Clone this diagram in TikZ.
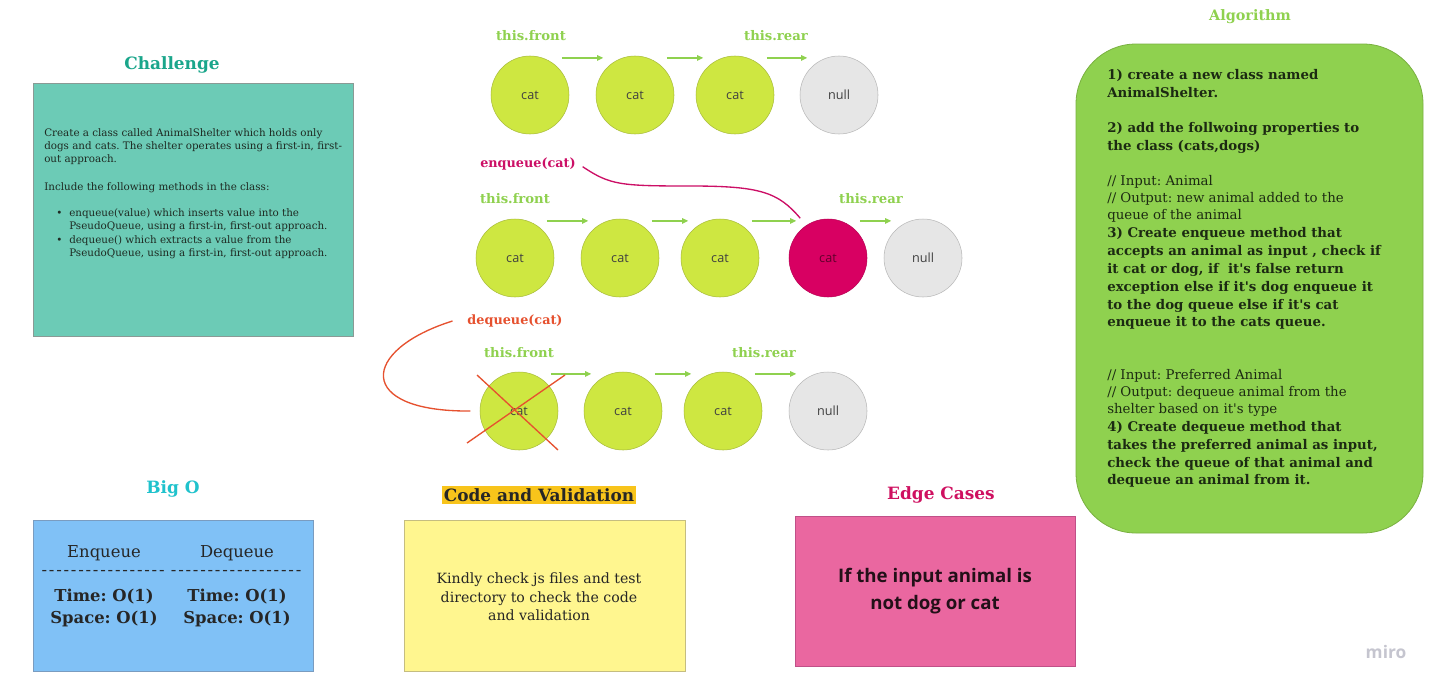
\documentclass[tikz,border=0pt]{standalone}
\usepackage{fontspec}
\setmainfont{DejaVu Serif}
\newfontfamily\osans{Open Sans}
\usetikzlibrary{arrows.meta,calc}
\frenchspacing
\definecolor{chtitle}{HTML}{1AA68B}
\definecolor{chfill}{HTML}{6CCBB6}
\definecolor{chborder}{HTML}{8A9A95}
\definecolor{ptrgreen}{HTML}{8FD14F}
\definecolor{catgreen}{HTML}{CEE741}
\definecolor{catborder}{HTML}{A8BC3A}
\definecolor{magcircle}{HTML}{D80062}
\definecolor{enqcol}{HTML}{CC0F66}
\definecolor{nullgray}{HTML}{E6E6E6}
\definecolor{nullborder}{HTML}{B8B8B8}
\definecolor{deqcol}{HTML}{E6512F}
\definecolor{bigotitle}{HTML}{1FC2CC}
\definecolor{bigofill}{HTML}{80C1F6}
\definecolor{bigoborder}{HTML}{7A9CC0}
\definecolor{codehl}{HTML}{F8C41B}
\definecolor{yellowfill}{HTML}{FFF68F}
\definecolor{yellowborder}{HTML}{C5BD80}
\definecolor{edgetitle}{HTML}{CF1060}
\definecolor{pinkfill}{HTML}{EA67A0}
\definecolor{pinkborder}{HTML}{C05088}
\definecolor{algfill}{HTML}{8FD14F}
\definecolor{algborder}{HTML}{79B040}
\definecolor{mirocol}{HTML}{C5C5CF}
\definecolor{bodytext}{HTML}{1E2A22}
\definecolor{algtext}{HTML}{1C2A12}
\newcommand\dashrow[1]{\foreach \k in {1,...,#1}{-\kern1.35pt}}
\newcommand\ap{\textquotesingle}
\begin{document}
\begin{tikzpicture}[x=0.75pt,y=-0.75pt,
  qnode/.style={circle, minimum size=58.5pt, inner sep=0pt, line width=0.4pt,
    font=\osans\fontsize{9.5pt}{11pt}\selectfont, text=black!75},
  catnode/.style={qnode, fill=catgreen, draw=catborder},
  magnode/.style={qnode, fill=magcircle, draw=magcircle!85!black, text=black!55!magcircle},
  nullnode/.style={qnode, fill=nullgray, draw=nullborder},
  ptr/.style={draw=ptrgreen, line width=1pt, -{Triangle[length=4.5pt,width=4pt]}},
  ptrlbl/.style={font=\bfseries\fontsize{9.9pt}{11pt}\selectfont, text=ptrgreen, inner sep=0pt},
  title/.style={font=\bfseries\fontsize{12.7pt}{14pt}\selectfont, inner sep=0pt},
  chline/.style={anchor=west, inner sep=0pt, text height=0.72em, text depth=0.22em,
    font=\fontsize{7.75pt}{9pt}\selectfont, text=bodytext},
  algline/.style={anchor=west, inner sep=0pt, text height=0.72em, text depth=0.22em,
    font=\fontsize{10pt}{12pt}\selectfont, text=algtext},
  boxnode/.style={rectangle, line width=0.6pt, inner sep=0pt}
]
\useasboundingbox (0,0) rectangle (1442,693);
\fill[white] (0,0) rectangle (1442,693);

% ---------------- Challenge ----------------
\node[title, text=chtitle] (chT) at (172,65) {Challenge};
\node[boxnode, fill=chfill, draw=chborder, minimum width=240pt, minimum height=189.75pt] (chB) at (193,209.5) {};
\node[chline] (ch1) at (44,133) {Create a class called AnimalShelter which holds only};
\node[chline] (ch2) at (44,146) {dogs and cats. The shelter operates using a first-in, first-};
\node[chline] (ch3) at (44,159) {out approach.};
\node[chline] (ch4) at (44,187) {Include the following methods in the class:};
\node[chline] (chb1) at (56,213) {\textbullet};
\node[chline] (ch5) at (69,213) {enqueue(value) which inserts value into the};
\node[chline] (ch6) at (69,226) {PseudoQueue, using a first-in, first-out approach.};
\node[chline] (chb2) at (56,240) {\textbullet};
\node[chline] (ch7) at (69,240) {dequeue() which extracts a value from the};
\node[chline] (ch8) at (69,253) {PseudoQueue, using a first-in, first-out approach.};

% ---------------- Row 1 ----------------
\node[ptrlbl] (f1) at (531,36) {this.front};
\node[ptrlbl] (r1) at (776,36) {this.rear};
\node[catnode] (a1) at (530,95) {cat};
\node[catnode] (a2) at (635,95) {cat};
\node[catnode] (a3) at (735,95) {cat};
\node[nullnode] (a4) at (839,95) {null};
\foreach \p/\q in {a1/a2,a2/a3,a3/a4}
  \draw[ptr] ([xshift=3pt,yshift=7pt]\p.north east) -- ([xshift=-3pt,yshift=7pt]\q.north west);

% ---------------- Row 2 ----------------
\node[font=\bfseries\fontsize{9.6pt}{11pt}\selectfont, text=enqcol, inner sep=0pt] (enq) at (528,164) {enqueue(cat)};
\node[ptrlbl] (f2) at (515,199) {this.front};
\node[ptrlbl] (r2) at (871,199) {this.rear};
\node[catnode] (b1) at (515,258) {cat};
\node[catnode] (b2) at (620,258) {cat};
\node[catnode] (b3) at (720,258) {cat};
\node[magnode] (b4) at (828,258) {cat};
\node[nullnode] (b5) at (923,258) {null};
\foreach \p/\q in {b1/b2,b2/b3,b3/b4,b4/b5}
  \draw[ptr] ([xshift=3pt,yshift=7pt]\p.north east) -- ([xshift=-3pt,yshift=7pt]\q.north west);
\draw[enqcol, line width=1pt] ([xshift=5pt,yshift=-2pt]enq.east) .. controls (610,185) and (620,186) .. (690,186)
  .. controls (760,186) and (778,192) .. ([yshift=9pt]b4.north west);

% ---------------- Row 3 ----------------
\node[font=\bfseries\fontsize{9.6pt}{11pt}\selectfont, text=deqcol, inner sep=0pt] (deq) at (515,321) {dequeue(cat)};
\node[ptrlbl] (f3) at (519,353) {this.front};
\node[ptrlbl] (r3) at (764,353) {this.rear};
\node[catnode] (d1) at (519,411) {cat};
\node[catnode] (d2) at (623,411) {cat};
\node[catnode] (d3) at (723,411) {cat};
\node[nullnode] (d4) at (828,411) {null};
\foreach \p/\q in {d1/d2,d2/d3,d3/d4}
  \draw[ptr] ([xshift=3pt,yshift=7pt]\p.north east) -- ([xshift=-3pt,yshift=7pt]\q.north west);
\draw[deqcol, line width=1pt] ([xshift=-11pt]deq.west) .. controls (360,350) and (355,412) .. ([xshift=-7pt]d1.west);
\draw[deqcol, line width=1pt] ($(d1)+(-42,-36)$) -- ($(d1)+(39,39)$);
\draw[deqcol, line width=1pt] ($(d1)+(46,-36)$) -- ($(d1)+(-52,32)$);

% ---------------- Algorithm ----------------
\node[title, text=ptrgreen, font=\bfseries\fontsize{10.8pt}{12pt}\selectfont] (algT) at (1250,17) {Algorithm};
\node[boxnode, fill=algfill, draw=algborder, rounded corners=45pt, minimum width=260.25pt, minimum height=366.75pt] (algB) at (1249.5,288.5) {};
\foreach \yy/\tt [count=\i] in {
  76/{\bfseries 1) create a new class named},
  94/{\bfseries AnimalShelter.},
  129/{\bfseries 2) add the follwoing properties to},
  147/{\bfseries the class (cats,dogs)},
  182/{// Input: Animal},
  199/{// Output: new animal added to the},
  216/{queue of the animal},
  234/{\bfseries 3) Create enqueue method that},
  252/{\bfseries accepts an animal as input , check if},
  270/{\bfseries it cat or dog, if\ \ it\ap s false return},
  288/{\bfseries exception else if it\ap s dog enqueue it},
  306/{\bfseries to the dog queue else if it\ap s cat},
  323/{\bfseries enqueue it to the cats queue.},
  376/{// Input: Preferred Animal},
  393/{// Output: dequeue animal from the},
  410/{shelter based on it\ap s type},
  428/{\bfseries 4) Create dequeue method that},
  446/{\bfseries takes the preferred animal as input,},
  464/{\bfseries check the queue of that animal and},
  481/{\bfseries dequeue an animal from it.}}
  \node[algline] (al\i) at (1107,\yy) {\tt};

% ---------------- Big O ----------------
\node[title, text=bigotitle] (boT) at (173,489) {Big O};
\node[boxnode, fill=bigofill, draw=bigoborder, minimum width=210pt, minimum height=113.25pt] (boB) at (173,595.5) {};
\begin{scope}[every node/.style={inner sep=0pt, text=black!85, font=\fontsize{12.3pt}{14pt}\selectfont}]
\node (bo1) at (104,553) {Enqueue};
\node (bo2) at (237,553) {Dequeue};
\node (bo3) at (104,573) {\dashrow{17}};
\node (bo4) at (237,573) {\dashrow{18}};
\node[font=\bfseries\fontsize{12.3pt}{14pt}\selectfont] (bo5) at (104,597) {Time: O(1)};
\node[font=\bfseries\fontsize{12.3pt}{14pt}\selectfont] (bo6) at (104,619) {Space: O(1)};
\node[font=\bfseries\fontsize{12.3pt}{14pt}\selectfont] (bo7) at (237,597) {Time: O(1)};
\node[font=\bfseries\fontsize{12.3pt}{14pt}\selectfont] (bo8) at (237,619) {Space: O(1)};
\end{scope}

% ---------------- Code and Validation ----------------
\node[title, fill=codehl, text=black!85, inner xsep=1pt, inner ysep=2pt] (cvT) at (539,495) {Code and Validation};
\node[boxnode, fill=yellowfill, draw=yellowborder, minimum width=210.75pt, minimum height=113.25pt] (cvB) at (544.5,595.5) {};
\node[align=center, inner sep=0pt, text=black!85, font=\fontsize{10.6pt}{14pt}\selectfont] (cvX) at (539,597)
  {Kindly check js files and test\\directory to check the code\\and validation};

% ---------------- Edge Cases ----------------
\node[title, text=edgetitle] (ecT) at (941,495) {Edge Cases};
\node[boxnode, fill=pinkfill, draw=pinkborder, minimum width=210pt, minimum height=112.5pt,
  align=center, text=black!85!pinkfill, font=\osans\bfseries\fontsize{14pt}{20pt}\selectfont] (ecB) at (935,591)
  {If the input animal is\\not dog or cat};

\node[inner sep=0pt, text=mirocol, font=\osans\bfseries\fontsize{13pt}{15pt}\selectfont] (miro) at (1386,652) {miro};
\end{tikzpicture}
\end{document}
